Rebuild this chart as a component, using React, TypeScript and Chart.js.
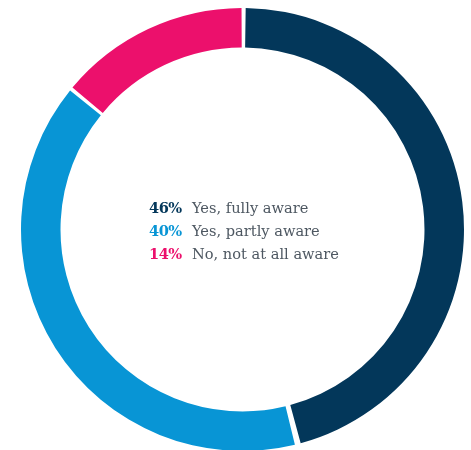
import React, { useEffect, useRef } from "react";
import { Chart, registerables } from "chart.js";

Chart.register(...registerables);

const labels = ["Yes, fully aware", "Yes, partly aware", "No, not at all aware"];
const values = [46, 40, 14];
const colors = ["#03375a", "#0895d5", "#ec106c"];

export default function App() {
  const ref = useRef<HTMLCanvasElement | null>(null);

  useEffect(() => {
    if (!ref.current) return;
    const chart = new Chart(ref.current, {
      type: "doughnut",
      data: {
        labels,
        datasets: [
          {
            data: values,
            backgroundColor: colors,
            borderWidth: 0,
            hoverOffset: 0,
          },
        ],
      },
      options: {
        responsive: false,
        animation: false,
        cutout: "82%",
        spacing: 4,
        layout: { padding: { left: 21, right: 7, top: 8, bottom: 9 } },
        plugins: {
          legend: { display: false },
          tooltip: { enabled: false },
        },
      },
    });
    return () => chart.destroy();
  }, []);

  return (
    <div style={{ position: "absolute", left: 0, top: 0, width: 471, height: 450, overflow: "hidden", background: "#fff" }}>
      <canvas ref={ref} width={471} height={460} style={{ position: "absolute", left: 0, top: 0, width: 471, height: 460 }} />
      <div
        style={{
          position: "absolute",
          left: 149,
          top: 196,
          fontFamily: "'DejaVu Serif', serif",
          fontSize: 14.6,
          lineHeight: "23px",
          color: "#4d5761",
        }}
      >
        {labels.map((l, i) => (
          <div key={l} style={{ display: "flex", whiteSpace: "nowrap" }}>
            <span style={{ width: 43, color: colors[i], fontWeight: 600, letterSpacing: -0.5 }}>{values[i]}%</span>
            <span>{l}</span>
          </div>
        ))}
      </div>
    </div>
  );
}
